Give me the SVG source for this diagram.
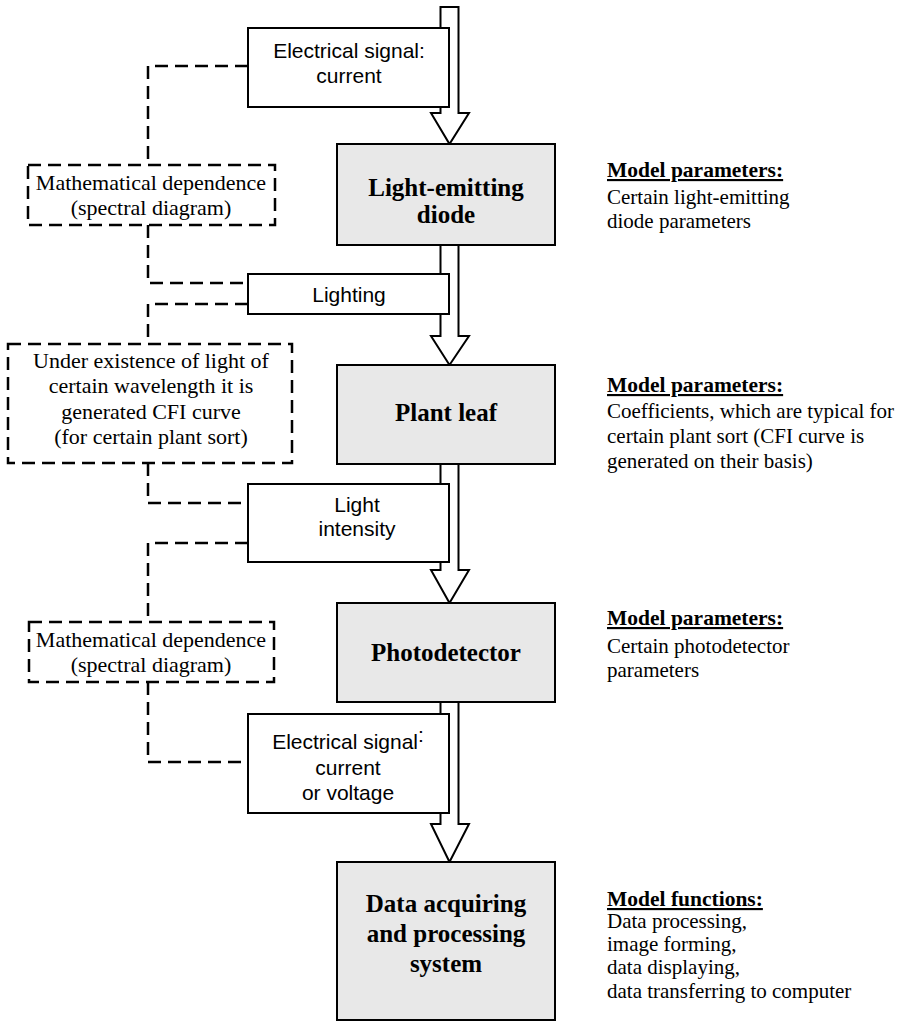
<svg xmlns="http://www.w3.org/2000/svg" width="899" height="1023" viewBox="0 0 899 1023">
<defs>
<style>
.bg{fill:#ffffff}
.block{fill:#e8e8e8;stroke:#000;stroke-width:2}
.lbl{fill:#fff;stroke:#000;stroke-width:2}
.dbox{fill:#fff;stroke:#000;stroke-width:2.5;stroke-dasharray:13 7}
.dline{fill:none;stroke:#000;stroke-width:2.5;stroke-dasharray:13 7}
.arrow{fill:#fff;stroke:#000;stroke-width:2;stroke-linejoin:miter}
.bt{font-family:"Liberation Serif","Times New Roman",serif;font-weight:bold;font-size:25px;text-anchor:middle;fill:#000}
.st{font-family:"Liberation Sans",Arial,sans-serif;font-size:21px;text-anchor:middle;fill:#000}
.dt{font-family:"Liberation Serif","Times New Roman",serif;font-size:22px;text-anchor:middle;fill:#000}
.rh{font-family:"Liberation Serif","Times New Roman",serif;font-size:21.5px;font-weight:bold;text-decoration:underline;fill:#000}
.rt{font-family:"Liberation Serif","Times New Roman",serif;font-size:21px;fill:#000}
</style>
</defs>
<rect class="bg" x="0" y="0" width="899" height="1023"/>

<g id="arrows">
<polygon class="arrow" points="440.5,7 458.5,7 458.5,113 469,113 449.5,144 431,113 440.5,113"/>
<polygon class="arrow" points="440.5,245 458.5,245 458.5,336 469,336 449.5,365 431,336 440.5,336"/>
<polygon class="arrow" points="440.5,464 458.5,464 458.5,570 469,570 449.5,603 431,570 440.5,570"/>
<polygon class="arrow" points="440.5,702 458.5,702 458.5,824 469,824 449.5,862 431,824 440.5,824"/>
</g>

<g id="connectors">
<path class="dline" d="M248,66 H148 V165"/>
<path class="dline" d="M148,225 V283 H248"/>
<path class="dline" d="M248,304 H148 V344"/>
<path class="dline" d="M148,463 V503 H248"/>
<path class="dline" d="M248,543 H148 V622"/>
<path class="dline" d="M148,682 V762 H248"/>
</g>

<g id="led">
<rect class="block" x="337" y="144" width="218" height="101"/>
<text class="bt" x="446" y="196">Light-emitting</text>
<text class="bt" x="446" y="223">diode</text>
</g>
<g id="leaf">
<rect class="block" x="337" y="365" width="218" height="99"/>
<text class="bt" x="446" y="421">Plant leaf</text>
</g>
<g id="photodetector">
<rect class="block" x="337" y="603" width="218" height="99"/>
<text class="bt" x="446" y="661">Photodetector</text>
</g>
<g id="daq">
<rect class="block" x="337" y="862" width="218" height="158"/>
<text class="bt" x="446" y="912">Data acquiring</text>
<text class="bt" x="446" y="942">and processing</text>
<text class="bt" x="446" y="972">system</text>
</g>

<g id="signal-current">
<rect class="lbl" x="248" y="28" width="201" height="79"/>
<text class="st" x="349" y="58">Electrical signal:</text>
<text class="st" x="349" y="83">current</text>
</g>
<g id="lighting">
<rect class="lbl" x="248" y="274" width="201" height="40"/>
<text class="st" x="349" y="302">Lighting</text>
</g>
<g id="light-intensity">
<rect class="lbl" x="248" y="484" width="201" height="78"/>
<text class="st" x="357" y="512">Light</text>
<text class="st" x="357" y="536">intensity</text>
</g>
<g id="signal-voltage">
<rect class="lbl" x="248" y="714" width="201" height="99"/>
<text class="st" x="348" y="749">Electrical signal<tspan dy="-7">:</tspan></text>
<text class="st" x="348" y="775">current</text>
<text class="st" x="348" y="800">or voltage</text>
</g>

<g id="math-dep-1">
<rect class="dbox" x="28" y="165" width="247" height="60"/>
<text class="dt" x="151" y="190">Mathematical dependence</text>
<text class="dt" x="151" y="215">(spectral diagram)</text>
</g>
<g id="cfi">
<rect class="dbox" x="8" y="344" width="284" height="119"/>
<text class="dt" x="151" y="368">Under existence of light of</text>
<text class="dt" x="151" y="393">certain wavelength it is</text>
<text class="dt" x="151" y="419">generated CFI curve</text>
<text class="dt" x="151" y="444">(for certain plant sort)</text>
</g>
<g id="math-dep-2">
<rect class="dbox" x="29" y="622" width="245" height="60"/>
<text class="dt" x="151" y="647">Mathematical dependence</text>
<text class="dt" x="151" y="672">(spectral diagram)</text>
</g>

<g id="params-led">
<text class="rh" x="607" y="177">Model parameters:</text>
<text class="rt" x="607" y="204">Certain light-emitting</text>
<text class="rt" x="607" y="228">diode parameters</text>
</g>
<g id="params-leaf">
<text class="rh" x="607" y="392">Model parameters:</text>
<text class="rt" x="607" y="418">Coefficients, which are typical for</text>
<text class="rt" x="607" y="443">certain plant sort (CFI curve is</text>
<text class="rt" x="607" y="468">generated on their basis)</text>
</g>
<g id="params-photo">
<text class="rh" x="607" y="625">Model parameters:</text>
<text class="rt" x="607" y="653">Certain photodetector</text>
<text class="rt" x="607" y="677">parameters</text>
</g>
<g id="functions-daq">
<text class="rh" x="607" y="906">Model functions:</text>
<text class="rt" x="607" y="928">Data processing,</text>
<text class="rt" x="607" y="951">image forming,</text>
<text class="rt" x="607" y="974">data displaying,</text>
<text class="rt" x="607" y="998">data transferring to computer</text>
</g>
</svg>
